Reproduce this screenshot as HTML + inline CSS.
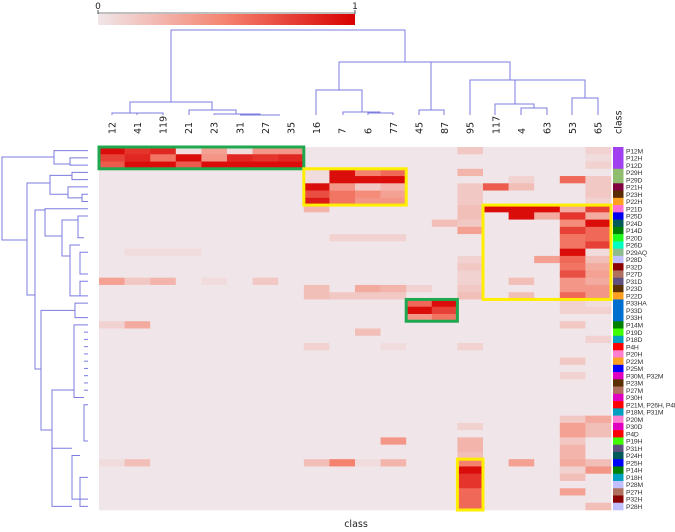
<!DOCTYPE html>
<html><head><meta charset="utf-8"><style>
body{margin:0;background:#fff;width:675px;height:532px;overflow:hidden}
svg{display:block;font-family:"DejaVu Sans","Liberation Sans",sans-serif}
</style></head><body>
<svg id="c" width="675" height="532"></svg>
<script>
const colLabels=["12","41","119","21","23","31","27","35","16","7","6","77","45","87","95","117","4","63","53","65"];
const rowLabels=["P12M","P12H","P12D","P29H","P29D","P21H","P23H","P22H","P21D","P25D","P24D","P14D","P20D","P26D","P29AQ","P28D","P32D","P27D","P31D","P23D","P22D","P33HA","P33D","P33H","P14M","P19D","P18D","P4H","P20H","P22M","P25M","P30M, P32M","P23M","P27M","P30H","P21M, P26H, P4M","P18M, P31M","P20M","P30D","P4D","P19H","P31H","P24H","P25H","P14H","P18H","P28M","P27H","P32H","P28H"];
const rowClassColors=["#a040f0","#a040f0","#a040f0","#8fbc6f","#8fbc6f","#800040","#5a2a00","#ffa020","#ff70d0","#0000ee","#005a5a","#008000","#20ff20","#00ffc0","#8fbc8f","#c0c0ff","#8b0000","#b07060","#605080","#5a3000","#ffa020","#0070d0","#0070d0","#0070d0","#008000","#40ff00","#00a0c0","#ff0000","#ff80d0","#ffa020","#0000ff","#e000c0","#5a3000","#b07060","#e000c0","#ff0000","#00a0c0","#ff80d0","#e000c0","#ff0000","#40ff00","#605080","#005a5a","#0000ff","#008000","#00a0c0","#c0c0ff","#b07060","#8b0000","#c0c0ff"];
const values=[
[.95,.8,.85,.05,.35,.05,.4,.4, 0,0,0,0, 0,0,.15, 0,0,0, 0,.1],
[.75,.85,.55,.95,.4,.85,.8,.85, 0,0,0,0, 0,0,0, 0,0,0, 0,.05],
[.65,.95,.95,.65,.95,.95,.95,.95, 0,0,0,0, 0,0,0, 0,0,0, 0,.1],
[0,0,0,0,0,0,0,0, .05,.95,.5,.6, 0,0,.25, 0,0,0, 0,0],
[0,0,0,0,0,0,0,0, .05,.95,.95,.95, 0,0,0, 0,.1,0, .6,.15],
[0,0,0,0,0,0,0,0, .95,.4,.15,.25, 0,0,.15, .65,.2,0, 0,.15],
[0,0,0,0,0,0,0,0, .7,.55,.45,.35, 0,0,.15, 0,0,0, 0,.15],
[0,0,0,0,0,0,0,0, .9,.55,.4,.4, 0,0,.15, 0,0,0, 0,.1],
[0,0,0,0,0,0,0,0, .25,0,0,0, 0,0,.2, .95,.95,.95, .3,.75],
[0,0,0,0,0,0,0,0, 0,0,0,0, 0,0,.2, 0,.95,.3, .8,.3],
[0,0,0,0,0,0,0,0, 0,0,0,0, 0,.2,.15, 0,0,0, .45,.95],
[0,0,0,0,0,0,0,0, 0,0,0,0, 0,0,.35, 0,0,0, .75,.6],
[0,0,0,0,0,0,0,0, 0,.1,.1,.1, 0,0,0, 0,0,0, .55,.6],
[0,0,0,0,0,0,0,0, 0,0,0,0, 0,0,0, 0,0,0, .55,.75],
[0,.05,.05,.05,0,0,0,0, 0,0,0,0, 0,0,0, 0,0,0, .95,.05],
[0,0,0,0,0,0,0,0, 0,0,0,0, 0,0,.1, 0,0,.35, .6,.2],
[0,0,0,0,0,0,0,0, 0,0,0,0, 0,0,.15, 0,0,0, .55,.3],
[0,0,0,0,0,0,0,0, 0,0,0,0, 0,0,.1, 0,0,0, .7,.35],
[.35,.15,.25,0,.05,0,.15,0, 0,0,0,0, 0,0,.1, 0,.2,0, .4,.3],
[0,0,0,0,0,0,0,0, .2,0,.3,.25, .1,0,.15, 0,0,0, .4,.4],
[0,0,0,0,0,0,0,0, .2,.15,.15,.15, 0,0,.2, 0,.2,0, .6,.4],
[0,0,0,0,0,0,0,0, 0,0,0,0, .6,.95,0, 0,0,0, .1,.05],
[0,0,0,0,0,0,0,0, 0,0,0,0, .95,.75,0, 0,0,0, .1,.1],
[0,0,0,0,0,0,0,0, 0,0,0,0, .4,.55,0, 0,0,0, 0,0],
[.1,.3,0,0,0,0,0,0, 0,0,0,0, 0,0,0, 0,0,0, .15,0],
[0,0,0,0,0,0,0,0, 0,0,.2,0, 0,0,0, 0,0,0, 0,0],
[0,0,0,0,0,0,0,0, 0,0,0,0, 0,0,0, 0,0,0, 0,.1],
[0,0,0,0,0,0,0,0, .1,0,0,.05, 0,0,.1, 0,0,0, 0,0],
[0,0,0,0,0,0,0,0, 0,0,0,0, 0,0,0, 0,0,0, 0,0],
[0,0,0,0,0,0,0,0, 0,0,0,0, 0,0,0, 0,0,0, .15,0],
[0,0,0,0,0,0,0,0, 0,0,0,0, 0,0,0, 0,0,0, 0,0],
[0,0,0,0,0,0,0,0, 0,0,0,0, 0,0,0, 0,0,0, .1,0],
[0,0,0,0,0,0,0,0, 0,0,0,0, 0,0,0, 0,0,0, 0,0],
[0,0,0,0,0,0,0,0, 0,0,0,0, 0,0,0, 0,0,0, 0,0],
[0,0,0,0,0,0,0,0, 0,0,0,0, 0,0,0, 0,0,0, 0,0],
[0,0,0,0,0,0,0,0, 0,0,0,0, 0,0,0, 0,0,0, 0,0],
[0,0,0,0,0,0,0,0, 0,0,0,0, 0,0,0, 0,0,0, 0,0],
[0,0,0,0,0,0,0,0, 0,0,0,0, 0,0,0, 0,0,0, .15,.3],
[0,0,0,0,0,0,0,0, 0,0,0,0, 0,0,.1, 0,0,0, .35,.2],
[0,0,0,0,0,0,0,0, 0,0,0,0, 0,0,0, 0,0,0, .35,.2],
[0,0,0,0,0,0,0,0, 0,0,0,.4, 0,0,.25, 0,0,0, .15,0],
[0,0,0,0,0,0,0,0, 0,0,0,0, 0,0,.25, 0,0,0, .25,0],
[0,0,0,0,0,0,0,0, 0,0,0,0, 0,0,.2, 0,0,0, .25,0],
[.05,.2,0,0,0,0,0,0, .2,.5,.05,.25, 0,0,.5, 0,.35,0, .3,.2],
[0,0,0,0,0,0,0,0, 0,0,0,0, 0,0,.95, 0,0,0, .1,.4],
[0,0,0,0,0,0,0,0, 0,0,0,0, 0,0,.8, 0,0,0, .2,0],
[0,0,0,0,0,0,0,0, 0,0,0,0, 0,0,.8, 0,0,0, 0,0],
[0,0,0,0,0,0,0,0, 0,0,0,0, 0,0,.6, 0,0,0, .35,0],
[0,0,0,0,0,0,0,0, 0,0,0,0, 0,0,.6, 0,0,0, 0,0],
[0,0,0,0,0,0,0,0, 0,0,0,0, 0,0,.6, 0,0,0, 0,.2]
];
const colorTicks=["0","1"];

const NS="http://www.w3.org/2000/svg",svg=document.getElementById("c");
function mk(t,a,p){const e=document.createElementNS(NS,t);for(const k in a)e.setAttribute(k,a[k]);(p||svg).appendChild(e);return e;}
const X0=99,X1=611,Y0=147,Y1=510;
const cw=(X1-X0)/colLabels.length, rh=(Y1-Y0)/rowLabels.length;
const xPos=i=>X0+i*cw, yPos=r=>Y0+r*rh;
function color(v){const a=[240,230,233],b=[245,130,110],c=[216,0,0];let p,q,t;if(v<0.5){p=a;q=b;t=v/0.5}else{p=b;q=c;t=(v-0.5)/0.5}return `rgb(${p.map((x,i)=>Math.round(x+(q[i]-x)*t)).join(",")})`;}

const defs=mk("defs",{});const g=mk("linearGradient",{id:"cb"},defs);
mk("stop",{offset:"0",style:"stop-color:"+color(0)},g);mk("stop",{offset:"0.5",style:"stop-color:"+color(0.5)},g);mk("stop",{offset:"1",style:"stop-color:"+color(1)},g);
const cb=mk("rect",{x:98,y:14,width:257,height:11,fill:"url(#cb)"});


mk("line",{x1:98,y1:13,x2:355,y2:13,stroke:"#555","stroke-width":0.8});
colorTicks.forEach((t,i)=>{const x=98+i*257;mk("line",{x1:x,y1:10,x2:x,y2:14,stroke:"#555"});const tx=mk("text",{x:x,y:9,"font-size":9,"text-anchor":"middle",fill:"#222"});tx.textContent=t;

});

values.forEach((row,r)=>row.forEach((v,c)=>{
 const e=mk("rect",{x:xPos(c),y:yPos(r),width:cw+0.3,height:rh+0.3,fill:color(v)});
 
 
}));
const boxes=[[0,2,0,7,"#1fa84f"],[3,7,8,11,"#ffee00"],[21,23,12,13,"#1fa84f"],[8,20,15,19,"#ffee00"],[43,49,14,14,"#ffee00"]];
boxes.forEach(b=>{const e=mk("rect",{x:xPos(b[2]),y:yPos(b[0]),width:(b[3]-b[2]+1)*cw,height:(b[1]-b[0]+1)*rh,fill:"none",stroke:b[4],"stroke-width":3});

});

rowLabels.forEach((l,r)=>{
 const s=mk("rect",{x:613,y:yPos(r),width:10.5,height:rh+0.3,fill:rowClassColors[r]});
 
 
 const t=mk("text",{x:626,y:yPos(r)+rh-1,"font-size":6.8,fill:"#333","letter-spacing":"-0.2","font-family":"Liberation Sans, sans-serif"});t.textContent=l;
 
 
});
colLabels.concat(["class"]).forEach((l,i)=>{
 const cx=(i<colLabels.length?xPos(i)+cw/2:618)+3.5;
 const t=mk("text",{x:cx,y:134,"font-size":9.5,fill:"#222",transform:`rotate(-90 ${cx} 134)`});t.textContent=l;
 
 
});
const xt=mk("text",{x:356,y:527,"font-size":9.5,"text-anchor":"middle",fill:"#222"});xt.textContent="class";



const dcol="#7b7be0";
function seg(pts){const p=mk("polyline",{points:pts.map(q=>q.join(",")).join(" "),fill:"none",stroke:dcol,"stroke-width":1});

}
const topLinks=[[171,405,30,102,62],[130,212,102,113,110],[112,150,113,115,113],[137,163,113,115,115],[189,236,110,115,114],[214,260,114,115,115],[240,280,115,115,115],
[339,510,62,90,80],[316,362,90,115,112],[343,380,112,115,113],[368,393,113,115,115],[419,444,110,115,115],[470,585,80,115,98],[495,534,104,115,108],[521,547,108,115,115],[572,598,98,115,115]];
topLinks.forEach(l=>seg([[l[0],l[3]],[l[0],l[2]],[l[1],l[2]],[l[1],l[4]]]));
seg([[431,62],[431,110]]);seg([[515,80],[515,104]]);
const cy=r=>yPos(r)+rh/2;
const L=88;
const leftLinks=[[157,240,2,54,27],[cy(0),164,54,L,70],[cy(1),cy(2),70,L,L],
[183,295,27,50,35],[cy(3)+3,cy(6),50,72,68],[cy(3),cy(4),72,L,L],[cy(5),cy(6.5),68,L,82],[cy(6),cy(7),82,L,L],
[210,369,35,45,41],[cy(8),236,45,L,62],[220,256,62,78,70],[cy(9),cy(12),78,L,84],[cy(13),cy(20),70,80,80],[cy(14),cy(17),80,L,L],[cy(18),cy(20),80,L,L],
[cy(22),430,41,75,52],[cy(21),cy(23),75,L,L],[390,472,52,74,52],[cy(24),cy(34),74,84,84],[cy(35),cy(40),84,L,L],[cy(41),cy(49),52,72,72],[cy(42),cy(48),72,80,L],[cy(45),cy(49),80,L,L]];
leftLinks.forEach(l=>seg([[l[3],l[0]],[l[2],l[0]],[l[2],l[1]],[l[4],l[1]]]));
for(let r=24;r<34;r++)seg([[84,cy(r)],[L,cy(r)]]);
</script>
</body></html>
